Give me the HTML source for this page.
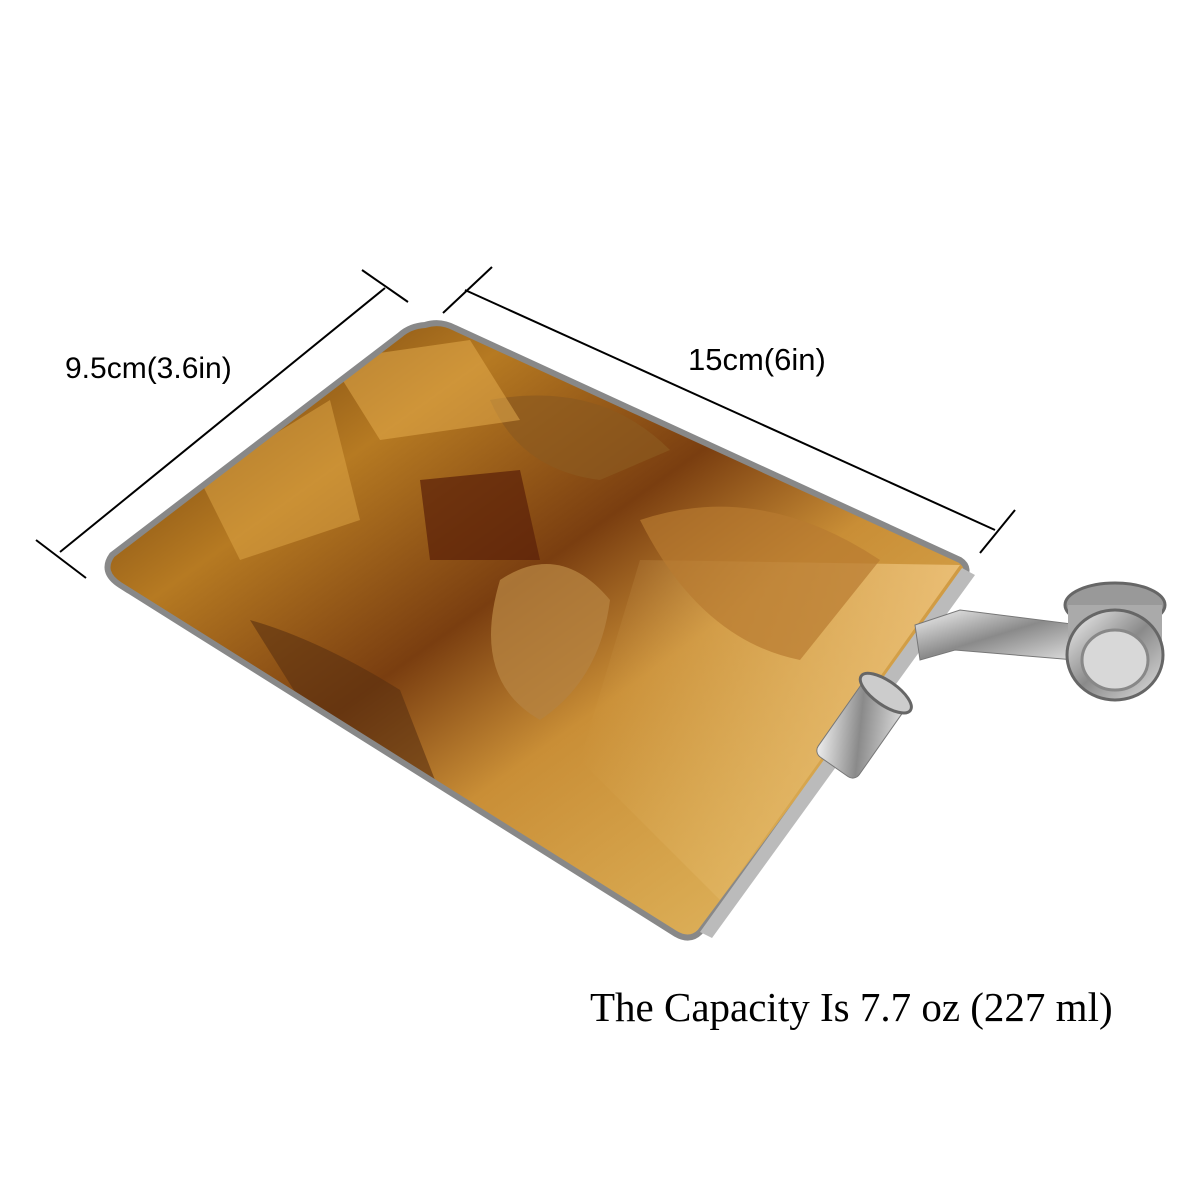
<!DOCTYPE html>
<html><head><meta charset="utf-8"><style>
html,body{margin:0;padding:0;background:#fff;width:1200px;height:1200px;overflow:hidden}
</style></head><body>
<svg width="1200" height="1200" viewBox="0 0 1200 1200" xmlns="http://www.w3.org/2000/svg">
<defs>
<linearGradient id="gold" x1="0" y1="0" x2="1" y2="1">
<stop offset="0" stop-color="#5a2e08"/>
<stop offset="0.25" stop-color="#b67a22"/>
<stop offset="0.45" stop-color="#7a3e10"/>
<stop offset="0.6" stop-color="#c98e36"/>
<stop offset="0.8" stop-color="#d8a850"/>
<stop offset="1" stop-color="#e8c070"/>
</linearGradient>
<linearGradient id="sky" x1="0" y1="0" x2="1" y2="0">
<stop offset="0" stop-color="#e8c070" stop-opacity="0"/>
<stop offset="1" stop-color="#f0c680" stop-opacity="0.8"/>
</linearGradient>
<linearGradient id="metal" x1="0" y1="0" x2="1" y2="1">
<stop offset="0" stop-color="#f4f4f4"/>
<stop offset="0.5" stop-color="#8a8a8a"/>
<stop offset="1" stop-color="#e0e0e0"/>
</linearGradient>
<clipPath id="bc"><path d="M425,325 Q440,320 455,328 L960,560 Q972,568 962,582 L700,932 Q690,942 676,934 L120,585 Q100,572 112,555 L400,335 Q410,326 425,325 Z"/></clipPath>
</defs>
<path d="M425,325 Q440,320 455,328 L960,560 Q972,568 962,582 L700,932 Q690,942 676,934 L120,585 Q100,572 112,555 L400,335 Q410,326 425,325 Z" fill="url(#gold)"/>
<g clip-path="url(#bc)">
<path d="M640,560 L960,565 L720,900 L580,760 Z" fill="url(#sky)"/>
<path d="M420,480 L520,470 L540,560 L430,560 Z" fill="#5a2008" opacity="0.7"/>
<path d="M500,580 Q560,540 610,600 Q600,680 540,720 Q470,680 500,580Z" fill="#b58240" opacity="0.8"/>
<path d="M490,400 Q600,380 670,450 L600,480 Q520,470 490,400Z" fill="#8c5a20" opacity="0.7"/>
<path d="M250,620 Q320,640 400,690 L470,870 Q380,800 300,700 Z" fill="#5a3010" opacity="0.6"/>
<path d="M640,520 Q760,480 880,560 L800,660 Q700,640 640,520Z" fill="#b87a30" opacity="0.7"/>
<path d="M200,480 L330,400 L360,520 L240,560Z" fill="#e0a848" opacity="0.5"/>
<path d="M330,360 L470,340 L520,420 L380,440Z" fill="#e8b050" opacity="0.5"/>
</g>
<path d="M425,325 Q440,320 455,328 L960,560 Q972,568 962,582 L700,932 Q690,942 676,934 L120,585 Q100,572 112,555 L400,335 Q410,326 425,325 Z" fill="none" stroke="#888" stroke-width="6"/>
<path d="M962,568 L975,575 L712,938 L700,932 Z" fill="#bbb"/>
<g transform="translate(860,730) rotate(-55)">
<rect x="-45" y="-25" width="90" height="50" rx="8" fill="url(#metal)" stroke="#777"/>
<ellipse cx="45" cy="0" rx="12" ry="30" fill="#ccc" stroke="#666" stroke-width="3"/>
</g>
<path d="M915,625 L960,610 L1080,625 L1075,660 L955,650 L920,660 Z" fill="url(#metal)" stroke="#777"/>
<ellipse cx="1115" cy="605" rx="50" ry="22" fill="#999" stroke="#666" stroke-width="3"/>
<rect x="1068" y="605" width="94" height="50" fill="#aaa"/>
<ellipse cx="1115" cy="655" rx="48" ry="45" fill="url(#metal)" stroke="#666" stroke-width="3"/>
<ellipse cx="1115" cy="660" rx="33" ry="30" fill="#d8d8d8" stroke="#888" stroke-width="3"/>
<g stroke="#000" stroke-width="2">
<line x1="60" y1="552" x2="385" y2="288"/>
<line x1="36" y1="540" x2="86" y2="578"/>
<line x1="362" y1="270" x2="408" y2="302"/>
<line x1="465" y1="290" x2="995" y2="530"/>
<line x1="443" y1="313" x2="492" y2="267"/>
<line x1="980" y1="553" x2="1015" y2="510"/>
</g>
<text x="65" y="378" font-family="Liberation Sans, sans-serif" font-size="30" fill="#000">9.5cm(3.6in)</text>
<text x="688" y="370" font-family="Liberation Sans, sans-serif" font-size="31" fill="#000">15cm(6in)</text>
<text x="590" y="1021" font-family="Liberation Serif, serif" font-size="41" fill="#000">The Capacity Is 7.7 oz (227 ml)</text>
</svg>
</body></html>
